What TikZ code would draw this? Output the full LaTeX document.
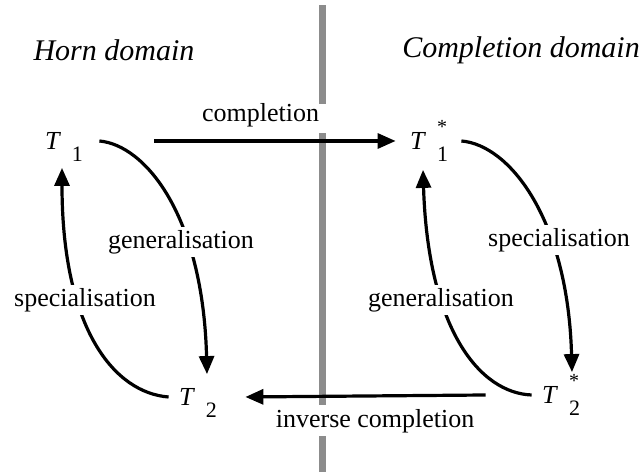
\documentclass[tikz,border=0pt]{standalone}
\usepackage{fontspec}
\setmainfont{Liberation Serif}
\usetikzlibrary{arrows.meta}
\newcommand{\Tsub}[2]{\textit{T}\smash{\rlap{\hspace{5.5pt}\rlap{\raisebox{8pt}{\fontsize{10}{10}\selectfont #2}}\raisebox{-6pt}{\fontsize{11}{11}\selectfont #1}}}}
\begin{document}
\begin{tikzpicture}[x=0.5pt,y=-0.5pt,
  font=\fontsize{13}{15}\selectfont,
  tnode/.style={inner sep=0pt, font=\fontsize{13}{15}\selectfont},
  head/.style={inner sep=0pt, font=\fontsize{15}{18}\selectfont\itshape},
  lbl/.style={fill=white, inner sep=1.5pt},
  arr/.style={line width=1.6pt, -{Triangle[length=9pt,width=7.5pt]}},
  barfill/.style={fill=black!45}]
\useasboundingbox (0,0) rectangle (644,474);

% separating bar
\fill[barfill] (318.5,5) rectangle (325.5,104);
\fill[barfill] (318.5,133) rectangle (325.5,405);
\fill[barfill] (318.5,436) rectangle (325.5,472);

% headings
\node[head] (hh) at (114,50) {Horn domain};
\node[head] (hc) at (521,50) {Completion domain};

% theory nodes
\node[tnode] (t1)  at (53,141)  {\Tsub{1}{}};
\node[tnode] (t1s) at (418,141) {\Tsub{1}{*}};
\node[tnode] (t2)  at (187,397) {\Tsub{2}{}};
\node[tnode] (t2s) at (550,395) {\Tsub{2}{*}};

% completion / inverse completion
\draw[arr] ([xshift=46.5pt]t1.east) -- ([xshift=-7pt]t1s.west)
  node[pos=0.44, above=5pt, inner sep=1pt] (lc) {completion};
\draw[arr] ([xshift=-28pt]t2s.west) -- ([xshift=25pt]t2.east)
  node[pos=0.46, below=5pt, inner sep=1pt] (lic) {inverse completion};

% left side curves
\draw[arr] ([xshift=19pt]t1.east) .. controls (145,145) and (203,215) .. ([xshift=10pt,yshift=7pt]t2.north);
\draw[arr] ([xshift=-5pt]t2.west) .. controls (115,393) and (62,330) .. ([xshift=4.5pt,yshift=-9pt]t1.south);
\node[lbl] (lg1) at (181,242) {generalisation};
\node[lbl] (ls1) at (85,300) {specialisation};

% right side curves
\draw[arr] ([xshift=17.5pt]t1s.east) .. controls (510,145) and (568,220) .. ([xshift=11pt,yshift=7pt]t2s.north);
\draw[arr] ([xshift=-5pt]t2s.west) .. controls (480,393) and (428,330) .. ([xshift=2.5pt,yshift=-10pt]t1s.south);
\node[lbl] (ls2) at (559,240) {specialisation};
\node[lbl] (lg2) at (441,300) {generalisation};
\end{tikzpicture}
\end{document}
